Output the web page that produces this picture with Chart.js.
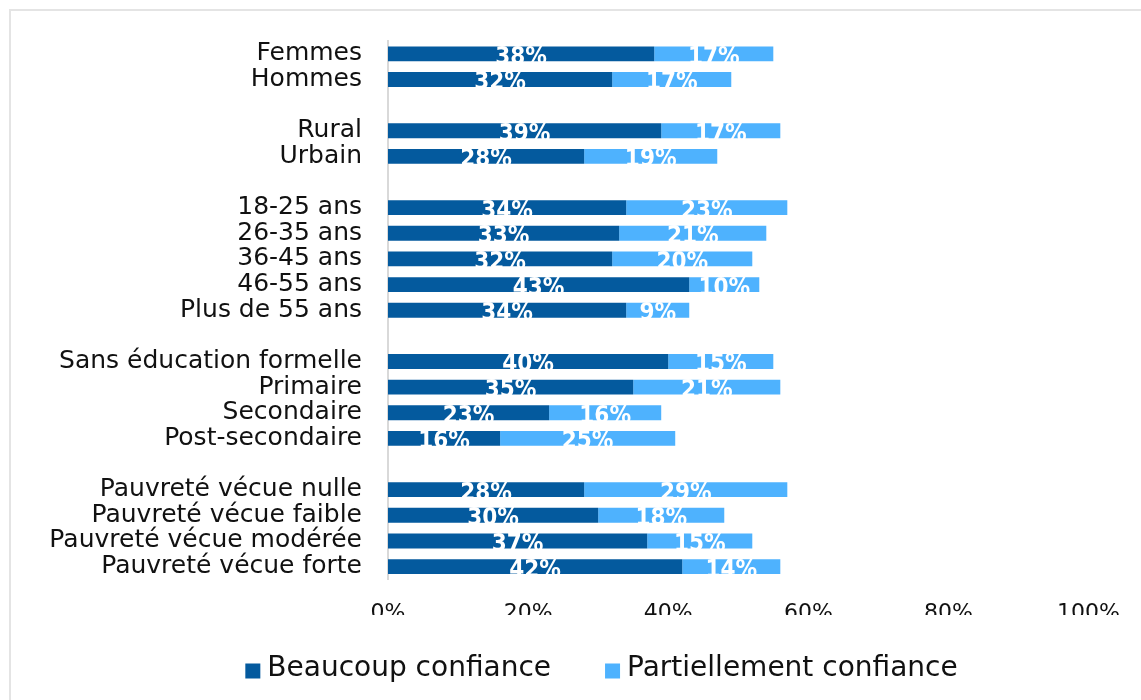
<!DOCTYPE html>
<html>
<head>
<meta charset="utf-8">
<script src="https://cdn.jsdelivr.net/npm/chart.js@4.4.1/dist/chart.umd.min.js"></script>
<style>
  html, body { margin: 0; padding: 0; background: #fff; }
  #frame { position: absolute; left: 9px; top: 9px; width: 1160px; height: 720px; border: 2px solid #e4e4e4; box-sizing: border-box; }
  #wrap { position: absolute; left: 0; top: 0; width: 1141px; height: 700px; }
</style>
</head>
<body>
<div id="frame"></div>
<div id="wrap"><canvas id="c" width="1141" height="700"></canvas></div>
<script>
// ---- data (blank categories are the gaps between groups) ----
const categories = [
  "Femmes", "Hommes", "",
  "Rural", "Urbain", "",
  "18-25 ans", "26-35 ans", "36-45 ans", "46-55 ans", "Plus de 55 ans", "",
  "Sans éducation formelle", "Primaire", "Secondaire", "Post-secondaire", "",
  "Pauvreté vécue nulle", "Pauvreté vécue faible", "Pauvreté vécue modérée", "Pauvreté vécue forte"
];
const beaucoup = [
  38, 32, null,
  39, 28, null,
  34, 33, 32, 43, 34, null,
  40, 35, 23, 16, null,
  28, 30, 37, 42
];
const partiellement = [
  17, 17, null,
  17, 19, null,
  23, 21, 20, 10, 9, null,
  15, 21, 16, 25, null,
  29, 18, 15, 14
];
const seriesNames = ["Beaucoup confiance", "Partiellement confiance"];
const xTicks = [0, 20, 40, 60, 80, 100];

const FONT = "'DejaVu Sans', sans-serif";
const LABEL_FONT = "bold 24px 'DejaVu Sans Condensed', 'DejaVu Sans', sans-serif";

const labelPlugin = {
  id: 'segLabels',
  afterDatasetsDraw(chart) {
    const ctx = chart.ctx;
    ctx.save();
    ctx.font = LABEL_FONT;
    ctx.fillStyle = '#ffffff';
    ctx.textAlign = 'center';
    ctx.textBaseline = 'alphabetic';
    chart.data.datasets.forEach((ds, di) => {
      const meta = chart.getDatasetMeta(di);
      meta.data.forEach((bar, i) => {
        const v = ds.data[i];
        if (v === null || v === undefined) return;
        const p = bar.getProps(['x', 'y', 'base'], true);
        ctx.fillText(v + '%', (p.x + p.base) / 2, p.y + 10);
      });
    });
    ctx.restore();
  }
};

// legend drawn from the datasets' own names and colours
const legendPlugin = {
  id: 'bottomLegend',
  afterDraw(chart) {
    const ctx = chart.ctx;
    const box = 15, gapText = 7, gapItem = 54, centerX = 601.5, textMidY = 669;
    ctx.save();
    ctx.font = "28px " + FONT;
    ctx.textBaseline = 'middle';
    ctx.textAlign = 'left';
    const items = chart.data.datasets.map(ds => ({ text: ds.label, color: ds.backgroundColor, w: ctx.measureText(ds.label).width }));
    let total = 0;
    items.forEach((it, i) => { total += box + gapText + it.w + (i < items.length - 1 ? gapItem : 0); });
    let x = centerX - total / 2;
    items.forEach(it => {
      ctx.fillStyle = it.color;
      ctx.fillRect(x, textMidY + 2 - box / 2, box, box);
      x += box + gapText;
      ctx.fillStyle = '#111';
      ctx.fillText(it.text, x, textMidY);
      x += it.w + gapItem;
    });
    ctx.restore();
  }
};

new Chart(document.getElementById('c'), {
  type: 'bar',
  data: {
    labels: categories,
    datasets: [
      { label: seriesNames[0], data: beaucoup, backgroundColor: '#045A9E', barPercentage: 0.58, categoryPercentage: 1 },
      { label: seriesNames[1], data: partiellement, backgroundColor: '#4EB2FE', barPercentage: 0.58, categoryPercentage: 1 }
    ]
  },
  options: {
    indexAxis: 'y',
    responsive: false,
    animation: false,
    layout: { padding: { left: 0, right: 48, top: 38, bottom: 85 } },
    scales: {
      x: {
        stacked: true,
        min: 0, max: 100,
        afterBuildTicks(scale) { scale.ticks = xTicks.map(v => ({ value: v })); },
        afterFit(scale) { scale.height = 35.6; },
        grid: { display: false, drawTicks: false },
        border: { display: false },
        ticks: { padding: 21, color: '#111', font: { family: FONT, size: 22 }, callback: v => v + '%' }
      },
      y: {
        stacked: true,
        afterFit(scale) { scale.width = 388; },
        grid: { display: false, drawTicks: false },
        border: { display: true, color: '#d9d9d9', width: 2 },
        ticks: { padding: 26, autoSkip: false, color: '#111', font: { family: FONT, size: 25 } }
      }
    },
    plugins: {
      legend: { display: false },
      tooltip: { enabled: false }
    }
  },
  plugins: [labelPlugin, legendPlugin]
});
</script>
</body>
</html>
